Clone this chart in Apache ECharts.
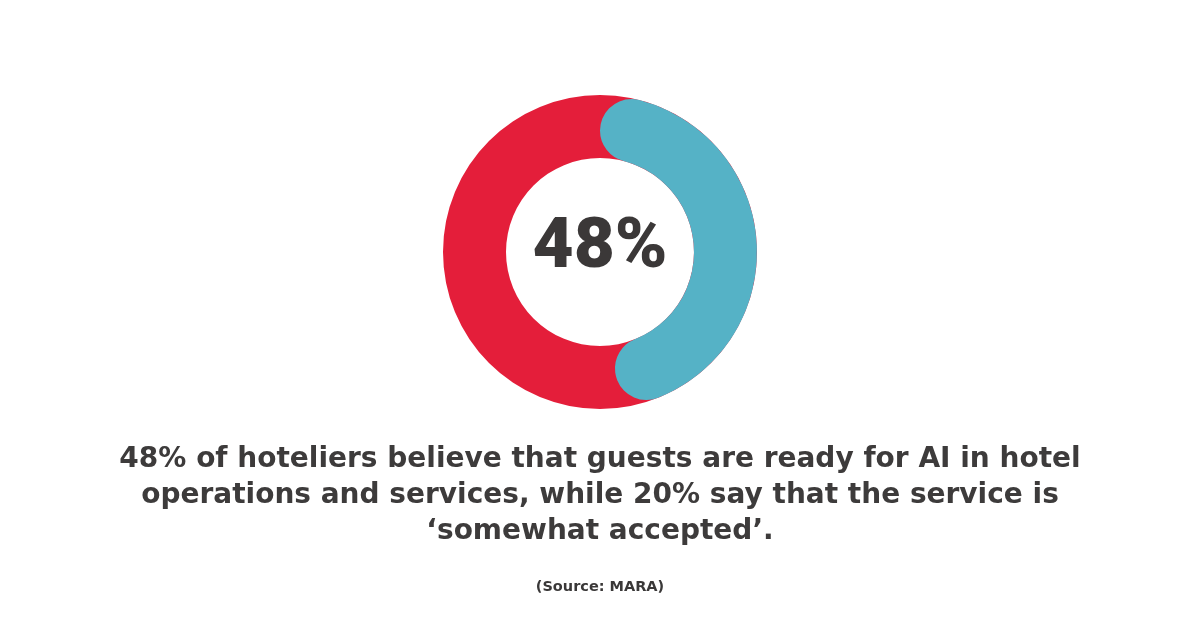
<!DOCTYPE html>
<html>
<head>
<meta charset="utf-8">
<script src="https://cdn.jsdelivr.net/npm/echarts@6/dist/echarts.min.js"></script>
<style>
  html, body { margin: 0; padding: 0; background: #fff; }
  #chart { width: 1200px; height: 630px; }
</style>
</head>
<body>
<div id="chart"></div>
<script>
// data
const shareReady = 48
const shareRest = 100 - shareReady
const centerLabel = '48%'
const captionLines = [
  '48% of hoteliers believe that guests are ready for AI in hotel',
  'operations and services, while 20% say that the service is',
  '\u2018somewhat accepted\u2019.'
]
const sourceText = '(Source: MARA)'

function drawChart() {
  let myChart = echarts.init(document.getElementById('chart'))

  // caption lines as centered text
  let captionEls = captionLines.map(function (line, i) {
    return {
      type: 'text',
      x: 600,
      y: 460 + i * 36,
      silent: true,
      style: {
        text: line,
        align: 'center',
        verticalAlign: 'middle',
        fontFamily: 'DejaVu Sans',
        fontWeight: 'bold',
        fontSize: 28,
        fill: '#3d3b3b'
      }
    }
  })

  myChart.setOption({
    backgroundColor: '#ffffff',
    animation: false,
    graphic: captionEls.concat([{
      type: 'text',
      x: 600,
      y: 249,
      silent: true,
      style: {
        text: centerLabel,
        align: 'center',
        verticalAlign: 'middle',
        fontFamily: 'Roboto',
        fontWeight: 900,
        fontSize: 71,
        fill: '#3b3838'
      }
    }, {
      type: 'text',
      x: 600,
      y: 587,
      silent: true,
      style: {
        text: sourceText,
        align: 'center',
        verticalAlign: 'middle',
        fontFamily: 'DejaVu Sans',
        fontWeight: 'bold',
        fontSize: 14.5,
        fill: '#3a3838'
      }
    }]),
    series: [{
      // full red ring underneath
      type: 'pie',
      center: [600, 252],
      radius: [94, 157],
      silent: true,
      label: { show: false },
      data: [{ value: 100, itemStyle: { color: '#e41e3a' } }]
    }, {
      type: 'pie',
      center: [600, 252],
      radius: [94, 157],
      startAngle: 90,
      clockwise: true,
      silent: true,
      label: { show: false },
      data: [
        { value: shareReady, itemStyle: { color: '#55b2c6', borderRadius: 32 } },
        { value: shareRest, itemStyle: { color: 'transparent' } }
      ]
    }]
  })
}

// make sure the local fonts are ready before drawing on canvas
Promise.all([
  document.fonts.load('900 71px Roboto'),
  document.fonts.load('bold 28px "DejaVu Sans"')
]).then(drawChart, drawChart)
</script>
</body>
</html>
